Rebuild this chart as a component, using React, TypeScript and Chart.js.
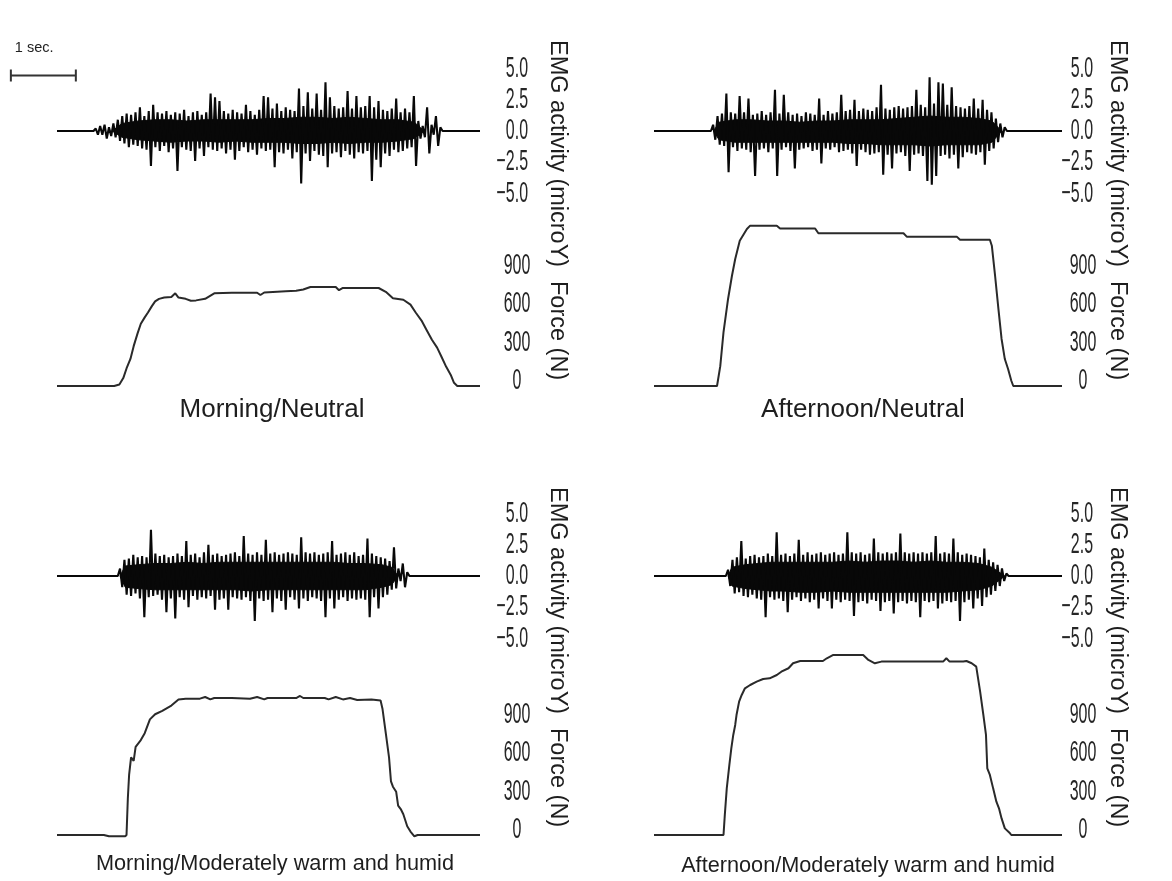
import React, { useEffect, useRef } from 'react';
import { Chart, LinearScale, registerables } from 'chart.js';

Chart.register(...registerables);

// ---------- data ----------
// time in seconds, force in newtons, EMG in microvolt-like units

const panelTitles = [
  'Morning/Neutral',
  'Afternoon/Neutral',
  'Morning/Moderately warm and humid',
  'Afternoon/Moderately warm and humid',
];

const emgTitle = 'EMG activity (microY)';
const forceTitle = 'Force (N)';
const scaleBarText = '1 sec.';

const emgTickValues = [-5, -2.5, 0, 2.5, 5];
const emgTickText = ['\u22125.0', '\u22122.5', '0.0', '2.5', '5.0'];
const forceTickValues = [0, 300, 600, 900];
const forceTickText = ['0', '300', '600', '900'];

// Morning / Neutral
const mnForceT = [0, 0.88, 0.96, 1.02, 1.07, 1.13, 1.18, 1.24, 1.29, 1.35, 1.4, 1.46, 1.51, 1.57, 1.65, 1.76, 1.82, 1.87, 1.98, 2.06, 2.14, 2.28, 2.42, 2.69, 3.08, 3.13, 3.19, 3.52, 3.68, 3.79, 3.9, 4.29, 4.34, 4.4, 4.95, 5.06, 5.17, 5.33, 5.44, 5.52, 5.61, 5.69, 5.77, 5.85, 5.91, 5.99, 6.06, 6.11, 6.16, 6.51];
const mnForceN = [0, 0, 12, 62, 137, 212, 312, 412, 487, 537, 575, 625, 662, 682, 692, 697, 725, 692, 682, 667, 670, 682, 725, 730, 730, 712, 732, 742, 745, 755, 775, 775, 750, 767, 767, 737, 687, 675, 637, 575, 512, 437, 362, 300, 237, 150, 87, 25, 0, 0];
const mnEmg = [
  0.2, -0.3, 0.4, -0.3, 0.5, -0.6,
  0.3, -0.4, 0.6, -0.5, 0.9, -0.8, 1.2, -1.0, 1.4, -1.3,
  1.3, -1.1, 1.5, -1.2, 1.9, -1.4, 1.2, -1.5, 1.6, -2.8,
  2.1, -1.3, 1.5, -1.6, 1.4, -1.2, 1.6, -1.7, 1.3, -1.4,
  1.5, -3.2, 1.4, -1.3, 1.7, -1.5, 1.2, -1.6, 1.5, -2.4,
  1.6, -1.4, 1.3, -2.0, 1.5, -1.3, 3.0, -1.5, 2.7, -1.6,
  2.4, -1.4, 1.6, -1.8, 1.4, -1.5, 1.7, -2.3, 1.5, -1.6,
  1.4, -1.3, 2.1, -1.7, 1.6, -1.5, 1.3, -1.9, 1.7, -1.4,
  2.8, -1.6, 2.7, -1.5, 1.8, -2.9, 2.2, -1.7, 1.6, -1.8,
  1.9, -1.5, 1.7, -2.2, 1.6, -1.7, 3.4, -4.2, 2.0, -1.8,
  3.1, -2.4, 1.8, -1.6, 3.0, -1.9, 1.7, -2.0, 3.9, -2.9,
  2.7, -1.8, 2.0, -1.7, 1.8, -2.1, 1.9, -1.6, 3.2, -1.9,
  1.8, -2.2, 2.8, -1.7, 1.9, -1.8, 2.0, -1.6, 2.8, -4.0,
  1.9, -2.3, 2.4, -2.9, 1.7, -1.8, 1.6, -2.0, 1.8, -1.5,
  2.6, -1.7, 1.5, -1.6, 1.8, -1.4, 1.5, -1.3, 2.8, -2.8,
  0.8, -0.6, 0.4, -0.5, 1.9, -1.8, 0.5, -0.3, 1.2, -1.2, 0.3,
];
// dense core of the burst: times and upper/lower edge
const mnCoreT = [0.85, 1.0, 1.25, 1.5, 1.75, 2.0, 2.25, 2.5, 2.75, 3.0, 3.25, 3.5, 3.75, 4.0, 4.25, 4.5, 4.75, 5.0, 5.25, 5.5, 5.65];
const mnCoreUp = [0, 0.6, 0.8, 0.9, 0.9, 0.8, 0.9, 0.9, 0.9, 0.9, 1.0, 1.0, 1.1, 1.1, 1.0, 1.1, 1.0, 0.9, 0.9, 0.7, 0];
const mnCoreLo = [0, -0.5, -0.7, -0.8, -0.9, -0.8, -0.8, -0.9, -0.8, -0.9, -0.9, -0.9, -1.0, -1.0, -0.9, -1.0, -0.9, -0.9, -0.8, -0.6, 0];

// Afternoon / Neutral
const anForceT = [0, 0.97, 1.02, 1.07, 1.14, 1.2, 1.25, 1.32, 1.43, 1.48, 1.89, 1.94, 2.48, 2.53, 3.84, 3.89, 4.66, 4.71, 5.17, 5.2, 5.25, 5.3, 5.35, 5.4, 5.45, 5.5, 5.53, 6.28];
const anForceN = [0, 0, 155, 422, 681, 863, 994, 1137, 1229, 1255, 1255, 1233, 1233, 1195, 1195, 1169, 1169, 1145, 1145, 1098, 863, 610, 368, 211, 133, 41, 0, 0];
const anEmg = [
  0.5, -0.7, 1.2, -1.1, 1.4, -1.2, 3.0, -3.3, 1.5, -1.3,
  1.4, -1.6, 2.8, -1.4, 1.5, -1.5, 2.6, -1.7, 1.3, -3.6,
  1.4, -1.5, 1.6, -1.4, 1.3, -1.7, 1.5, -1.4, 3.3, -3.6,
  1.4, -1.5, 2.9, -1.3, 1.5, -1.6, 1.3, -3.0, 1.4, -1.5,
  1.2, -1.4, 1.5, -1.3, 1.4, -1.6, 1.3, -1.5, 2.6, -2.6,
  1.3, -1.4, 1.6, -1.5, 1.4, -1.3, 1.5, -1.7, 2.9, -1.6,
  1.6, -1.5, 1.7, -1.8, 2.5, -2.8, 1.6, -1.5, 1.8, -1.7,
  1.7, -1.9, 1.6, -1.8, 1.9, -1.7, 3.7, -3.5, 1.8, -1.9,
  1.7, -3.0, 1.9, -1.8, 2.0, -1.7, 1.8, -2.0, 1.9, -3.2,
  2.0, -1.9, 3.3, -1.8, 2.1, -2.0, 1.9, -4.0, 4.3, -4.3,
  2.2, -3.6, 3.9, -2.0, 3.8, -1.9, 2.1, -2.2, 3.5, -1.9,
  2.0, -3.0, 1.9, -2.1, 1.8, -1.7, 2.0, -1.8, 2.6, -1.9,
  1.8, -1.7, 2.5, -2.7, 1.7, -1.6, 1.5, -1.4, 1.0, -0.9,
  0.6, -0.5, 0.3,
];
const anCoreT = [0.92, 1.0, 1.25, 1.5, 1.75, 2.0, 2.25, 2.5, 2.75, 3.0, 3.25, 3.5, 3.75, 4.0, 4.25, 4.5, 4.75, 5.0, 5.2, 5.35];
const anCoreUp = [0, 0.7, 0.9, 0.9, 0.8, 0.8, 0.7, 0.8, 0.8, 0.9, 0.9, 0.9, 1.0, 1.1, 1.2, 1.1, 1.1, 1.0, 0.8, 0];
const anCoreLo = [0, -0.7, -0.9, -0.9, -0.9, -0.9, -0.9, -0.9, -0.9, -1.0, -1.0, -1.1, -1.1, -1.1, -1.2, -1.1, -1.1, -1.1, -0.9, 0];

// Morning / Moderately warm and humid
const mwForceT = [0, 0.72, 0.8, 1.05, 1.07, 1.09, 1.11, 1.14, 1.18, 1.21, 1.29, 1.35, 1.43, 1.51, 1.62, 1.76, 1.87, 1.98, 2.2, 2.28, 2.36, 2.42, 2.69, 2.97, 3.08, 3.19, 3.24, 3.68, 3.74, 3.79, 4.12, 4.18, 4.29, 4.4, 4.51, 4.62, 4.84, 4.98, 5.01, 5.06, 5.11, 5.14, 5.17, 5.22, 5.25, 5.29, 5.33, 5.39, 5.44, 5.5, 5.55, 6.51];
const mwForceN = [0, 0, -10, -10, 0, 284, 473, 608, 580, 689, 743, 797, 905, 945, 972, 1013, 1061, 1067, 1067, 1080, 1061, 1072, 1072, 1067, 1080, 1061, 1072, 1072, 1088, 1072, 1072, 1061, 1080, 1061, 1072, 1056, 1061, 1053, 986, 797, 608, 419, 378, 338, 230, 203, 162, 68, 27, -10, 0, 0];
const mwEmg = [
  0.6, -0.9, 1.3, -1.5, 1.4, -1.6, 1.7, -1.4, 1.5, -1.8,
  1.6, -3.3, 1.5, -1.7, 3.7, -1.6, 1.8, -1.5, 1.6, -1.9,
  1.7, -2.9, 1.5, -1.8, 1.6, -3.4, 1.8, -1.7, 1.6, -1.9,
  2.8, -2.5, 1.7, -1.6, 1.8, -1.9, 1.5, -1.7, 1.9, -1.8,
  2.5, -1.6, 1.7, -2.7, 1.8, -1.9, 1.6, -1.8, 1.7, -2.7,
  1.8, -1.7, 1.9, -1.8, 1.6, -1.9, 3.2, -1.7, 1.8, -2.0,
  1.7, -3.6, 1.9, -1.8, 1.7, -2.0, 2.9, -1.9, 1.8, -2.9,
  1.9, -1.8, 1.7, -2.0, 1.8, -2.7, 1.9, -1.7, 1.8, -1.9,
  1.7, -2.6, 3.1, -1.8, 1.9, -2.0, 1.8, -1.7, 1.9, -1.8,
  1.7, -2.0, 1.8, -3.3, 1.9, -1.8, 2.8, -2.6, 1.7, -1.9,
  1.8, -1.7, 1.9, -2.0, 1.7, -1.8, 1.9, -1.9, 1.6, -1.8,
  1.7, -1.9, 3.0, -3.3, 1.8, -1.7, 1.6, -2.6, 1.5, -1.7,
  1.4, -1.5, 1.2, -1.1, 2.3, -1.0, 0.6, -0.4, 1.0, -0.9,
  0.3,
];
const mwCoreT = [0.97, 1.05, 1.25, 1.5, 1.75, 2.0, 2.25, 2.5, 2.75, 3.0, 3.25, 3.5, 3.75, 4.0, 4.25, 4.5, 4.75, 5.0, 5.15, 5.25];
const mwCoreUp = [0, 0.8, 0.9, 1.0, 1.0, 1.1, 1.0, 1.1, 1.1, 1.1, 1.1, 1.1, 1.1, 1.1, 1.1, 1.0, 1.0, 0.9, 0.7, 0];
const mwCoreLo = [0, -0.9, -1.0, -1.1, -1.1, -1.1, -1.1, -1.1, -1.1, -1.2, -1.1, -1.1, -1.1, -1.1, -1.1, -1.1, -1.1, -0.9, -0.7, 0];

// Afternoon / Moderately warm and humid
const awForceT = [0, 1.07, 1.09, 1.12, 1.16, 1.19, 1.22, 1.25, 1.27, 1.31, 1.35, 1.4, 1.48, 1.58, 1.68, 1.78, 1.89, 1.96, 2.07, 2.14, 2.25, 2.6, 2.66, 2.76, 3.22, 3.3, 3.4, 3.5, 4.45, 4.5, 4.55, 4.76, 4.81, 4.89, 4.96, 5.02, 5.07, 5.11, 5.13, 5.17, 5.22, 5.27, 5.31, 5.35, 5.4, 5.48, 5.5, 6.28];
const awForceN = [0, 0, 157, 365, 548, 678, 783, 861, 939, 1044, 1096, 1148, 1174, 1200, 1221, 1226, 1252, 1278, 1305, 1344, 1362, 1362, 1383, 1409, 1409, 1370, 1344, 1357, 1357, 1383, 1357, 1357, 1362, 1344, 1318, 1122, 939, 783, 522, 470, 365, 261, 209, 130, 52, 13, 0, 0];
const awEmg = [
  0.5, -0.8, 1.3, -1.4, 1.5, -1.3, 2.8, -1.6, 1.4, -1.7,
  1.6, -1.5, 1.7, -1.8, 1.5, -1.9, 1.6, -3.3, 1.8, -1.7,
  1.6, -1.9, 3.5, -1.8, 1.7, -2.0, 1.8, -2.9, 1.6, -1.9,
  1.8, -1.7, 2.9, -2.0, 1.7, -1.8, 1.9, -2.1, 1.7, -1.9,
  1.8, -2.6, 1.9, -1.8, 1.7, -2.0, 1.8, -2.6, 1.9, -1.9,
  1.7, -2.1, 1.8, -1.9, 3.5, -2.0, 1.9, -3.2, 1.8, -2.1,
  1.9, -2.0, 1.7, -2.2, 1.8, -1.9, 3.0, -2.0, 1.9, -2.8,
  1.8, -2.1, 1.9, -2.0, 1.8, -3.0, 1.9, -2.1, 3.4, -2.0,
  1.9, -2.2, 1.8, -2.0, 1.9, -2.1, 1.8, -3.3, 1.9, -2.0,
  1.8, -2.1, 1.9, -2.0, 3.2, -2.6, 1.8, -2.2, 1.9, -2.0,
  1.8, -2.1, 3.0, -2.0, 1.9, -3.6, 1.7, -2.1, 1.8, -1.9,
  1.7, -2.6, 1.6, -1.8, 1.5, -2.4, 2.2, -1.7, 1.3, -1.5,
  1.1, -1.2, 0.9, -0.8, 0.6, -0.4, 0.2,
];
const awCoreT = [1.14, 1.2, 1.4, 1.6, 1.8, 2.0, 2.25, 2.5, 2.75, 3.0, 3.25, 3.5, 3.75, 4.0, 4.25, 4.5, 4.75, 5.0, 5.2, 5.4];
const awCoreUp = [0, 0.7, 0.9, 1.0, 1.1, 1.1, 1.1, 1.1, 1.1, 1.2, 1.1, 1.2, 1.2, 1.1, 1.2, 1.1, 1.1, 1.0, 0.7, 0];
const awCoreLo = [0, -0.8, -1.0, -1.1, -1.2, -1.2, -1.3, -1.3, -1.2, -1.3, -1.3, -1.3, -1.3, -1.3, -1.3, -1.3, -1.2, -1.1, -0.8, 0];

// recording windows: EMG burst start, sample step and trace length (s)
const emgStarts = [0.596, 0.91, 0.97, 1.14];
const emgStep = 0.034;
const traceLengths = [6.51, 6.28, 6.51, 6.28];

// 1-second scale bar drawn on the first EMG trace
const scaleBar = { start: -0.71, length: 1, level: 4.45 };

// ---------- layout ----------
const FONT = '"Liberation Sans", Arial, Helvetica, sans-serif';
const EMG_PX_PER_UNIT = 12.5;
const EMG_RANGE = 6.8;
const FORCE_PX_PER_N = 115 / 900;
const FORCE_MIN = -60;
const FORCE_MAX = 1450;

type Panel = {
  title: string; titleX: number; titleY: number; titleSize: number;
  dataLeft: number; dataRight: number;
  emgZero: number; forceZero: number;
  emgLabelX: number; forceLabelX: number;
  canvasLeft: number; canvasRight: number;
  axisTitleX: number; emgTitleY: number; forceTitleY: number;
};

const panels: Panel[] = [
  { title: panelTitles[0], titleX: 272, titleY: 408, titleSize: 26, dataLeft: 57, dataRight: 480, emgZero: 131, forceZero: 386, emgLabelX: 528, forceLabelX: 517, canvasLeft: 0, canvasRight: 592, axisTitleX: 545, emgTitleY: 40, forceTitleY: 281 },
  { title: panelTitles[1], titleX: 863, titleY: 408, titleSize: 26, dataLeft: 654, dataRight: 1062, emgZero: 131, forceZero: 386, emgLabelX: 1093, forceLabelX: 1083, canvasLeft: 597, canvasRight: 1172, axisTitleX: 1105, emgTitleY: 40, forceTitleY: 281 },
  { title: panelTitles[2], titleX: 275, titleY: 863, titleSize: 21.7, dataLeft: 57, dataRight: 480, emgZero: 576, forceZero: 835, emgLabelX: 528, forceLabelX: 517, canvasLeft: 0, canvasRight: 592, axisTitleX: 545, emgTitleY: 487, forceTitleY: 728 },
  { title: panelTitles[3], titleX: 868, titleY: 865, titleSize: 21.7, dataLeft: 654, dataRight: 1062, emgZero: 576, forceZero: 835, emgLabelX: 1093, forceLabelX: 1083, canvasLeft: 597, canvasRight: 1172, axisTitleX: 1105, emgTitleY: 487, forceTitleY: 728 },
];

const forceTimes = [mnForceT, anForceT, mwForceT, awForceT];
const forceValues = [mnForceN, anForceN, mwForceN, awForceN];
const emgValues = [mnEmg, anEmg, mwEmg, awEmg];
const coreTimes = [mnCoreT, anCoreT, mwCoreT, awCoreT];
const coreUpper = [mnCoreUp, anCoreUp, mwCoreUp, awCoreUp];
const coreLower = [mnCoreLo, anCoreLo, mwCoreLo, awCoreLo];

// ---------- chart helpers ----------

// Linear scale whose tick labels are drawn horizontally condensed, anchored at a fixed x.
class CondensedTickScale extends LinearScale {
  static id = 'condensedLinear';
  _computeLabelArea() {
    return undefined;
  }
  drawLabels(chartArea: any) {
    const opts: any = this.options;
    const items: any[] = (this as any).getLabelItems(chartArea);
    const ax = opts.labelX;
    for (const item of items) item.options.translation[0] = ax;
    const ctx = this.ctx;
    ctx.save();
    ctx.translate(ax, 0);
    ctx.scale(opts.labelSqueeze, 1);
    ctx.translate(-ax, 0);
    super.drawLabels(chartArea);
    ctx.restore();
  }
}
Chart.register(CondensedTickScale);

const scaleBarPlugin = {
  id: 'scaleBar',
  afterDatasetsDraw(chart: any, _args: any, opts: any) {
    if (!opts || opts.length == null) return;
    const { ctx, scales } = chart;
    const x0 = scales.x.getPixelForValue(opts.start);
    const x1 = scales.x.getPixelForValue(opts.start + opts.length);
    const y = scales.y.getPixelForValue(opts.level);
    ctx.save();
    ctx.strokeStyle = '#333';
    ctx.lineWidth = 2;
    ctx.beginPath();
    ctx.moveTo(x0, y);
    ctx.lineTo(x1, y);
    ctx.moveTo(x0, y - 6);
    ctx.lineTo(x0, y + 6);
    ctx.moveTo(x1, y - 6);
    ctx.lineTo(x1, y + 6);
    ctx.stroke();
    ctx.fillStyle = '#222';
    ctx.font = `14.5px ${FONT}`;
    ctx.textAlign = 'left';
    ctx.textBaseline = 'bottom';
    ctx.fillText(opts.text, x0 + 4, y - 20);
    ctx.restore();
  },
};

type Pt = { x: number; y: number };

type Trace = {
  key: string;
  left: number; top: number; width: number; height: number;
  areaLeft: number; areaRight: number; areaTop: number; areaBottom: number;
  xMax: number; yMin: number; yMax: number;
  tickValues: number[]; tickText: string[];
  labelX: number; align: 'near' | 'center' | 'far'; labelOffset: number;
  datasets: any[];
  bar?: any;
};

function emgPoints(values: number[], start: number, end: number): Pt[] {
  const pts = [{ x: 0, y: 0 }, { x: start - emgStep, y: 0 }];
  values.forEach((v, i) => pts.push({ x: start + i * emgStep, y: v }));
  pts.push({ x: start + values.length * emgStep, y: 0 });
  pts.push({ x: end, y: 0 });
  return pts;
}

function lineSet(data: Pt[], color: string, width: number, order: number, extra: any = {}) {
  return {
    data,
    borderColor: color,
    borderWidth: width,
    pointRadius: 0,
    tension: 0,
    borderJoinStyle: 'bevel',
    fill: false,
    clip: false,
    order,
    ...extra,
  };
}

function buildTraces(): Trace[] {
  const out: Trace[] = [];
  panels.forEach((p, i) => {
    const width = p.canvasRight - p.canvasLeft;
    const eTop = p.emgZero - 110;
    const ct = coreTimes[i];
    out.push({
      key: `emg${i}`,
      left: p.canvasLeft, top: eTop, width, height: 220,
      areaLeft: p.dataLeft, areaRight: p.dataRight,
      areaTop: p.emgZero - EMG_RANGE * EMG_PX_PER_UNIT,
      areaBottom: p.emgZero + EMG_RANGE * EMG_PX_PER_UNIT,
      xMax: traceLengths[i], yMin: -EMG_RANGE, yMax: EMG_RANGE,
      tickValues: emgTickValues, tickText: emgTickText,
      labelX: p.emgLabelX, align: 'far', labelOffset: 0,
      datasets: [
        lineSet(emgPoints(emgValues[i], emgStarts[i], traceLengths[i]), '#080808', 2.1, 0),
        lineSet(ct.map((t, k) => ({ x: t, y: coreUpper[i][k] })), '#080808', 1, 1, { fill: '+1', backgroundColor: '#080808' }),
        lineSet(ct.map((t, k) => ({ x: t, y: coreLower[i][k] })), '#080808', 1, 1),
      ],
      bar: i === 0 ? { ...scaleBar, text: scaleBarText } : undefined,
    });
    const fTop = p.forceZero - 215;
    out.push({
      key: `force${i}`,
      left: p.canvasLeft, top: fTop, width, height: 245,
      areaLeft: p.dataLeft, areaRight: p.dataRight,
      areaTop: p.forceZero - FORCE_MAX * FORCE_PX_PER_N,
      areaBottom: p.forceZero - FORCE_MIN * FORCE_PX_PER_N,
      xMax: traceLengths[i], yMin: FORCE_MIN, yMax: FORCE_MAX,
      tickValues: forceTickValues, tickText: forceTickText,
      labelX: p.forceLabelX, align: 'center', labelOffset: -5,
      datasets: [lineSet(forceTimes[i].map((t, k) => ({ x: t, y: forceValues[i][k] })), '#2a2a2a', 2, 0)],
    });
  });
  return out;
}

function buildConfig(s: Trace): any {
  const axisWidth = s.left + s.width - s.areaRight;
  return {
    type: 'line',
    data: { datasets: s.datasets },
    options: {
      animation: false,
      responsive: false,
      parsing: false,
      normalized: true,
      events: [],
      layout: {
        padding: {
          left: s.areaLeft - s.left,
          right: 0,
          top: s.areaTop - s.top,
          bottom: s.top + s.height - s.areaBottom,
        },
      },
      plugins: {
        legend: { display: false },
        tooltip: { enabled: false },
        scaleBar: s.bar || false,
      },
      scales: {
        x: { type: 'linear', display: false, min: 0, max: s.xMax },
        y: {
          type: 'condensedLinear',
          position: 'right',
          min: s.yMin,
          max: s.yMax,
          labelX: s.labelX - s.left,
          labelSqueeze: 0.55,
          grid: { display: false, drawTicks: false },
          border: { display: false },
          afterBuildTicks: (scale: any) => {
            scale.ticks = s.tickValues.map((v) => ({ value: v }));
          },
          afterFit: (scale: any) => {
            scale.width = axisWidth;
          },
          ticks: {
            autoSkip: false,
            crossAlign: s.align,
            labelOffset: s.labelOffset,
            padding: 0,
            color: '#262626',
            font: { family: FONT, size: 29 },
            callback: (v: number) => s.tickText[s.tickValues.indexOf(v)] ?? '',
          },
        },
      },
    },
    plugins: s.bar ? [scaleBarPlugin] : [],
  };
}

function TraceCanvas({ trace }: { trace: Trace }) {
  const ref = useRef<HTMLCanvasElement>(null);
  useEffect(() => {
    if (!ref.current) return;
    const chart = new Chart(ref.current, buildConfig(trace));
    return () => chart.destroy();
  }, [trace]);
  return (
    <canvas
      ref={ref}
      width={trace.width}
      height={trace.height}
      style={{ position: 'absolute', left: trace.left, top: trace.top, width: trace.width, height: trace.height }}
    />
  );
}

const traces = buildTraces();

export default function App() {
  const vertical: React.CSSProperties = {
    position: 'absolute',
    writingMode: 'vertical-rl',
    fontFamily: FONT,
    fontSize: 23.5,
    lineHeight: '27px',
    whiteSpace: 'nowrap',
    color: '#1e1e1e',
  };
  return (
    <div style={{ position: 'absolute', left: 0, top: 0, width: 1172, height: 881, background: '#fff', overflow: 'hidden' }}>
      {traces.map((t) => (
        <TraceCanvas key={t.key} trace={t} />
      ))}
      {panels.map((p, i) => (
        <React.Fragment key={`txt${i}`}>
          <div style={{ ...vertical, left: p.axisTitleX, top: p.emgTitleY }}>{emgTitle}</div>
          <div style={{ ...vertical, left: p.axisTitleX, top: p.forceTitleY }}>{forceTitle}</div>
          <div
            style={{
              position: 'absolute',
              left: p.titleX,
              top: p.titleY,
              transform: 'translate(-50%, -50%)',
              fontFamily: FONT,
              fontSize: p.titleSize,
              lineHeight: 1,
              whiteSpace: 'nowrap',
              color: '#1e1e1e',
            }}
          >
            {p.title}
          </div>
        </React.Fragment>
      ))}
    </div>
  );
}
